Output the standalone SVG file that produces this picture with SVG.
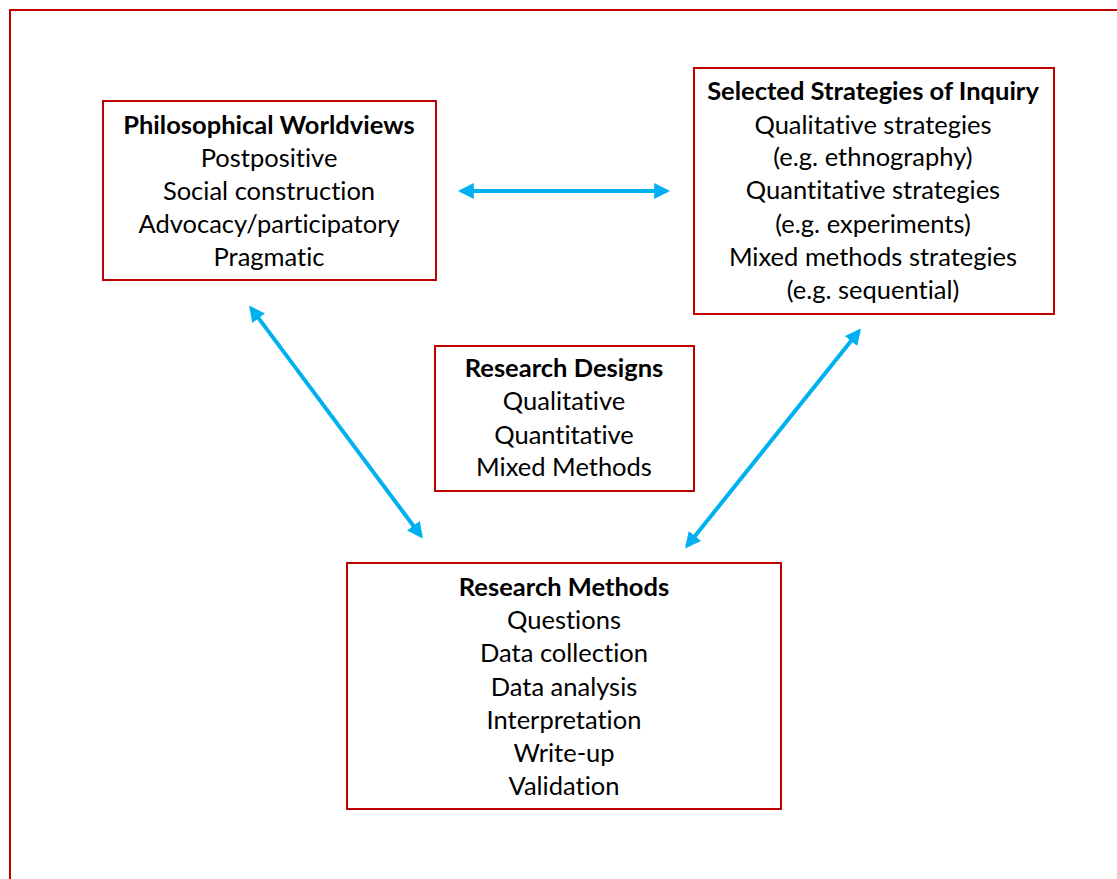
<svg xmlns="http://www.w3.org/2000/svg" width="1117" height="879" viewBox="0 0 1117 879">
  <defs>
    <style>
      .frame { fill: none; stroke: #c00000; stroke-width: 2; }
      .box { fill: #ffffff; stroke: #c00000; stroke-width: 2; }
      .t { font-family: Lato, "Liberation Sans", Arial, sans-serif; font-size: 25.5px; fill: #000000; text-anchor: middle; font-variant-ligatures: none; font-feature-settings: "liga" 0, "clig" 0; }
      .h { font-weight: bold; }
      .link { stroke: #00b0f0; stroke-width: 4; fill: none; marker-start: url(#tip); marker-end: url(#tip); }
    </style>
    <marker id="tip" viewBox="0 0 10 10" refX="8" refY="5" markerWidth="4" markerHeight="4" orient="auto-start-reverse" markerUnits="strokeWidth">
      <path d="M0,0 L10,5 L0,10 z" fill="#00b0f0"/>
    </marker>
  </defs>
  <rect width="1117" height="879" fill="#ffffff"/>
  <!-- page frame, running off the right and bottom edges -->
  <rect class="frame" x="10" y="10" width="1130" height="900"/>

  <g id="connectors">
    <line class="link" x1="461" y1="191" x2="667" y2="191"/>
    <line class="link" x1="251" y1="308" x2="421" y2="536"/>
    <line class="link" x1="859" y1="331" x2="687" y2="546"/>
  </g>

  <g id="worldviews">
    <rect class="box" x="103" y="101" width="333" height="179"/>
    <text class="t h" x="269" y="134">Philosophical Worldviews</text>
    <text class="t" x="269" y="167">Postpositive</text>
    <text class="t" x="269" y="200">Social construction</text>
    <text class="t" x="269" y="233">Advocacy/participatory</text>
    <text class="t" x="269" y="266">Pragmatic</text>
  </g>

  <g id="strategies">
    <rect class="box" x="694" y="68" width="360" height="246"/>
    <text class="t h" x="873" y="100">Selected Strategies of Inquiry</text>
    <text class="t" x="873" y="134">Qualitative strategies</text>
    <text class="t" x="873" y="166">(e.g. ethnography)</text>
    <text class="t" x="873" y="199">Quantitative strategies</text>
    <text class="t" x="873" y="233">(e.g. experiments)</text>
    <text class="t" x="873" y="266">Mixed methods strategies</text>
    <text class="t" x="873" y="299">(e.g. sequential)</text>
  </g>

  <g id="designs">
    <rect class="box" x="435" y="346" width="259" height="145"/>
    <text class="t h" x="564" y="377">Research Designs</text>
    <text class="t" x="564" y="410">Qualitative</text>
    <text class="t" x="564" y="444">Quantitative</text>
    <text class="t" x="564" y="476">Mixed Methods</text>
  </g>

  <g id="methods">
    <rect class="box" x="347" y="563" width="434" height="246"/>
    <text class="t h" x="564" y="596">Research Methods</text>
    <text class="t" x="564" y="629">Questions</text>
    <text class="t" x="564" y="662">Data collection</text>
    <text class="t" x="564" y="696">Data analysis</text>
    <text class="t" x="564" y="729">Interpretation</text>
    <text class="t" x="564" y="762">Write-up</text>
    <text class="t" x="564" y="795">Validation</text>
  </g>
</svg>
